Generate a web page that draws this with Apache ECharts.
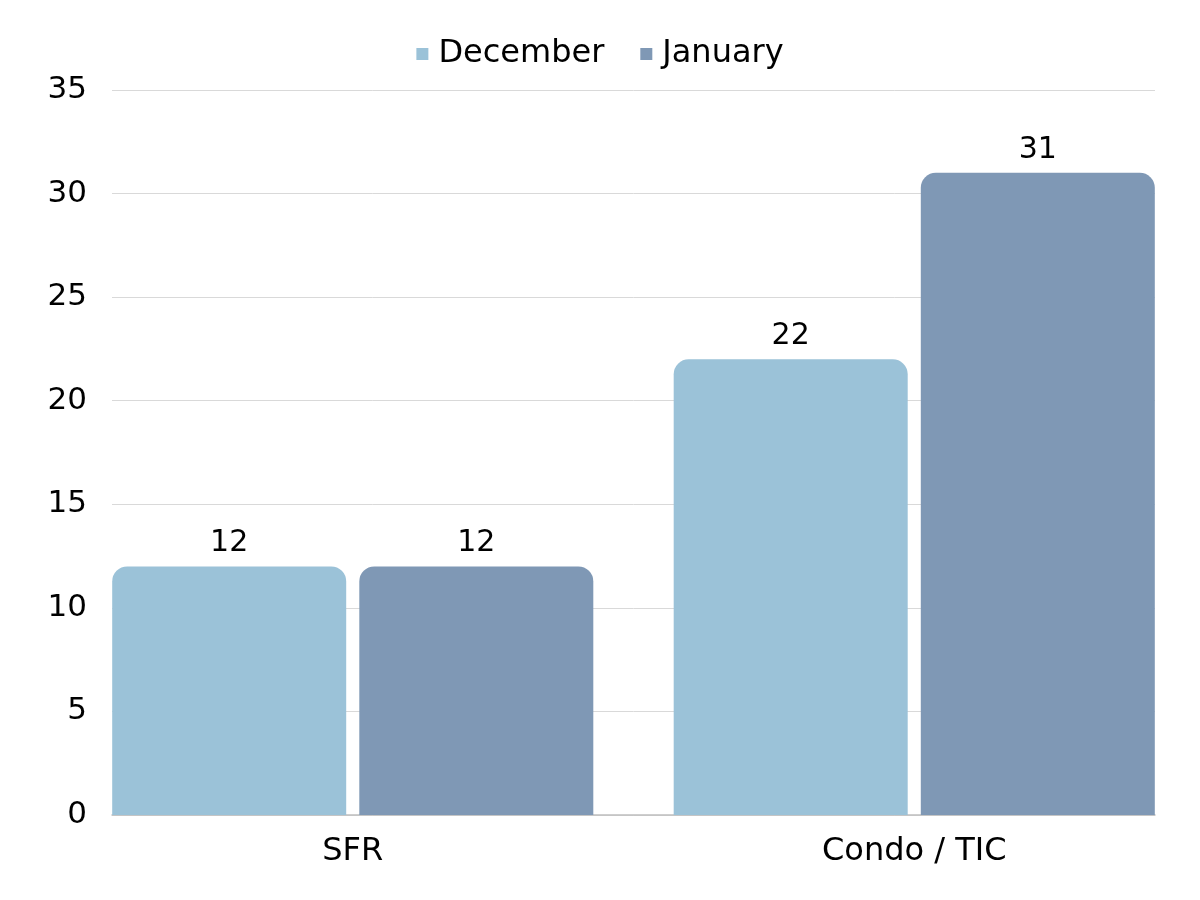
<!DOCTYPE html>
<html>
<head>
<meta charset="utf-8">
<script src="https://cdn.jsdelivr.net/npm/echarts@6/dist/echarts.min.js"></script>
<style>html,body{margin:0;padding:0;background:#fff}#c{width:1200px;height:900px}</style>
</head>
<body>
<div id="c"></div>
<script>
const categories = ['SFR', 'Condo / TIC'];
const december = [12, 22];
const january = [12, 31];
const seriesNames = ['December', 'January'];
const yTicks = { min: 0, max: 35, interval: 5 };

const FONT = 'DejaVu Sans';
const chart = echarts.init(document.getElementById('c'));
chart.setOption({
  backgroundColor: '#ffffff',
  textStyle: { fontFamily: FONT },
  legend: {
    top: 33, left: 'center', icon: 'rect', itemWidth: 12, itemHeight: 12, itemGap: 36,
    textStyle: { fontSize: 32, color: '#000', fontFamily: FONT, padding: [0, 0, 0, 5] },
    data: seriesNames
  },
  grid: [
    { left: 112, right: 45, top: 90, bottom: 85 },
    { left: 72, right: 5, top: 90, bottom: 85 }
  ],
  xAxis: [
    { gridIndex: 0, type: 'category', data: categories, axisLabel: { show: false },
      axisTick: { show: false }, axisLine: { lineStyle: { color: '#bfbfbf', width: 1.5 } } },
    { gridIndex: 1, type: 'category', data: categories, axisTick: { show: false },
      axisLine: { show: false },
      axisLabel: { fontSize: 32, color: '#000', margin: 21, fontFamily: FONT } }
  ],
  yAxis: [
    { gridIndex: 0, type: 'value', min: yTicks.min, max: yTicks.max, interval: yTicks.interval,
      axisLine: { show: false }, axisTick: { show: false },
      axisLabel: { fontSize: 31, color: '#000', margin: 25, fontFamily: FONT },
      splitLine: { lineStyle: { color: '#d9d9d9', width: 1 } } },
    { gridIndex: 1, type: 'value', min: yTicks.min, max: yTicks.max, interval: yTicks.interval,
      show: false, splitLine: { show: false } }
  ],
  series: [
    { name: seriesNames[0], type: 'bar', xAxisIndex: 1, yAxisIndex: 1, data: december,
      barWidth: 234, barGap: '5.6%',
      itemStyle: { color: '#9bc2d8', borderRadius: [15, 15, 0, 0] },
      label: { show: true, position: 'top', distance: 8, fontSize: 30, color: '#000', fontFamily: FONT } },
    { name: seriesNames[1], type: 'bar', xAxisIndex: 1, yAxisIndex: 1, data: january,
      barWidth: 234, barGap: '5.6%',
      itemStyle: { color: '#7f98b5', borderRadius: [15, 15, 0, 0] },
      label: { show: true, position: 'top', distance: 8, fontSize: 30, color: '#000', fontFamily: FONT } }
  ]
});
</script>
</body>
</html>
